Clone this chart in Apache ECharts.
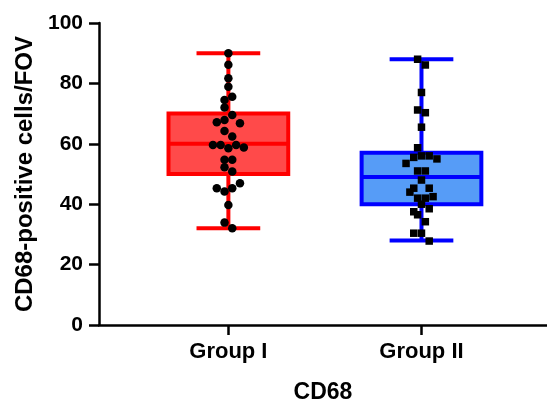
<!DOCTYPE html>
<html>
<head>
<meta charset="utf-8">
<script src="https://cdn.jsdelivr.net/npm/echarts@6/dist/echarts.min.js"></script>
<style>
  html, body { margin: 0; padding: 0; background: #fff; }
  #chart { width: 547px; height: 406px; }
</style>
</head>
<body>
<div id="chart"></div>
<script>
// groups on the x axis
const categories = ['Group I', 'Group II']

// box stats: min, Q1, median, Q3, max
const groupIBox = [32, 50, 60, 70, 90]
const groupIIBox = [28, 40, 49, 57, 88]

// individual values, with the swarm column each dot sits in
const groupIValues = [90, 86.2, 81.7, 78.9, 75.6, 74.5, 72, 69.5, 67.1, 67.9, 66.8, 64.2, 62.4,
  59.6, 59.6, 58.5, 59.6, 58.8, 54.7, 54.7, 52.2, 50.8, 45.3, 44.2, 45.3, 46.9, 39.7, 33.9, 32]
const groupISlots = [0, 0, 0, 0, 1, -1, -1, 1, -3, -1, 3, -1, 1,
  -4, -2, 0, 2, 4, -1, 1, -1, 1, -3, -1, 1, 3, 0, -1, 1]

const groupIIValues = [88, 86.1, 77, 71.2, 70.3, 65.5, 58.7, 55.5, 56, 56, 55, 53.5, 51, 51,
  48, 45.3, 45.3, 44, 42, 42, 42.5, 40, 38.5, 37.5, 36.5, 34.2, 30.4, 30.4, 27.8]
const groupIISlots = [-1, 1, 0, -1, 1, 0, -1, -2, 0, 2, 4, -4, -1, 1,
  0, -2, 2, -3, -1, 1, 3, 0, 2, -2, -1, 1, -2, 0, 2]

const slotStep = 0.02
const boxColors = [
  { fill: '#FF4A4A', stroke: '#FF0000' },
  { fill: '#569CF7', stroke: '#0000FF' }
]

const font = 'Liberation Sans, Arial, sans-serif'

function swarm (values, slots, group) {
  return values.map((v, i) => [group + slots[i] * slotStep, v])
}

let myChart = echarts.init(document.getElementById('chart'))
myChart.setOption({
  animation: false,
  grid: {
    left: 99,
    right: 0,
    top: 23,
    bottom: 81,
    outerBoundsMode: 'none'
  },
  xAxis: {
    type: 'value',
    min: 0.33,
    max: 2.65,
    name: 'CD68',
    nameLocation: 'middle',
    nameGap: 56,
    nameTextStyle: { color: '#000', fontFamily: font, fontWeight: 'bold', fontSize: 23 },
    axisLine: { lineStyle: { color: '#000', width: 2.5 } },
    axisTick: { show: true, length: 10, customValues: [1, 2], lineStyle: { color: '#000', width: 2.5 } },
    axisLabel: {
      customValues: [1, 2],
      margin: 16,
      color: '#000',
      fontFamily: font,
      fontWeight: 'bold',
      fontSize: 22,
      formatter: function (v) { return categories[Math.round(v) - 1] }
    },
    splitLine: { show: false }
  },
  yAxis: {
    type: 'value',
    min: 0,
    max: 100,
    interval: 20,
    name: 'CD68-positive cells/FOV',
    nameLocation: 'middle',
    nameGap: 62,
    nameTextStyle: { color: '#000', fontFamily: font, fontWeight: 'bold', fontSize: 24 },
    axisLine: { show: true, lineStyle: { color: '#000', width: 2.5 } },
    axisTick: { show: true, length: 10, lineStyle: { color: '#000', width: 2.5 } },
    axisLabel: { margin: 16, color: '#000', fontFamily: font, fontWeight: 'bold', fontSize: 21 },
    splitLine: { show: false }
  },
  series: [
    {
      type: 'custom',
      data: [[1].concat(groupIBox), [2].concat(groupIIBox)],
      encode: { x: 0, y: [1, 2, 3, 4, 5] },
      renderItem: function (params, api) {
        let c = boxColors[params.dataIndex]
        let x = api.value(0)
        let halfBox = api.size([0.62, 0])[0] / 2
        let halfCap = api.size([0.33, 0])[0] / 2
        let pMin = api.coord([x, api.value(1)])
        let pQ1 = api.coord([x, api.value(2)])
        let pMed = api.coord([x, api.value(3)])
        let pQ3 = api.coord([x, api.value(4)])
        let pMax = api.coord([x, api.value(5)])
        let cx = pMin[0]
        let ls = { stroke: c.stroke, lineWidth: 4 }
        return {
          type: 'group',
          children: [
            { type: 'line', shape: { x1: cx, y1: pMax[1], x2: cx, y2: pQ3[1] }, style: ls },
            { type: 'line', shape: { x1: cx, y1: pQ1[1], x2: cx, y2: pMin[1] }, style: ls },
            { type: 'line', shape: { x1: cx - halfCap, y1: pMax[1], x2: cx + halfCap, y2: pMax[1] }, style: ls },
            { type: 'line', shape: { x1: cx - halfCap, y1: pMin[1], x2: cx + halfCap, y2: pMin[1] }, style: ls },
            {
              type: 'rect',
              shape: { x: cx - halfBox, y: pQ3[1], width: halfBox * 2, height: pQ1[1] - pQ3[1] },
              style: { fill: c.fill, stroke: c.stroke, lineWidth: 4 }
            },
            { type: 'line', shape: { x1: cx - halfBox, y1: pMed[1], x2: cx + halfBox, y2: pMed[1] }, style: ls }
          ]
        }
      },
      z: 2
    },
    {
      type: 'scatter',
      data: swarm(groupIValues, groupISlots, 1),
      symbol: 'circle',
      symbolSize: 8.5,
      itemStyle: { color: '#000', opacity: 1 },
      z: 3
    },
    {
      type: 'scatter',
      data: swarm(groupIIValues, groupIISlots, 2),
      symbol: 'rect',
      symbolSize: 7.5,
      itemStyle: { color: '#000', opacity: 1 },
      z: 3
    }
  ]
})
</script>
</body>
</html>
